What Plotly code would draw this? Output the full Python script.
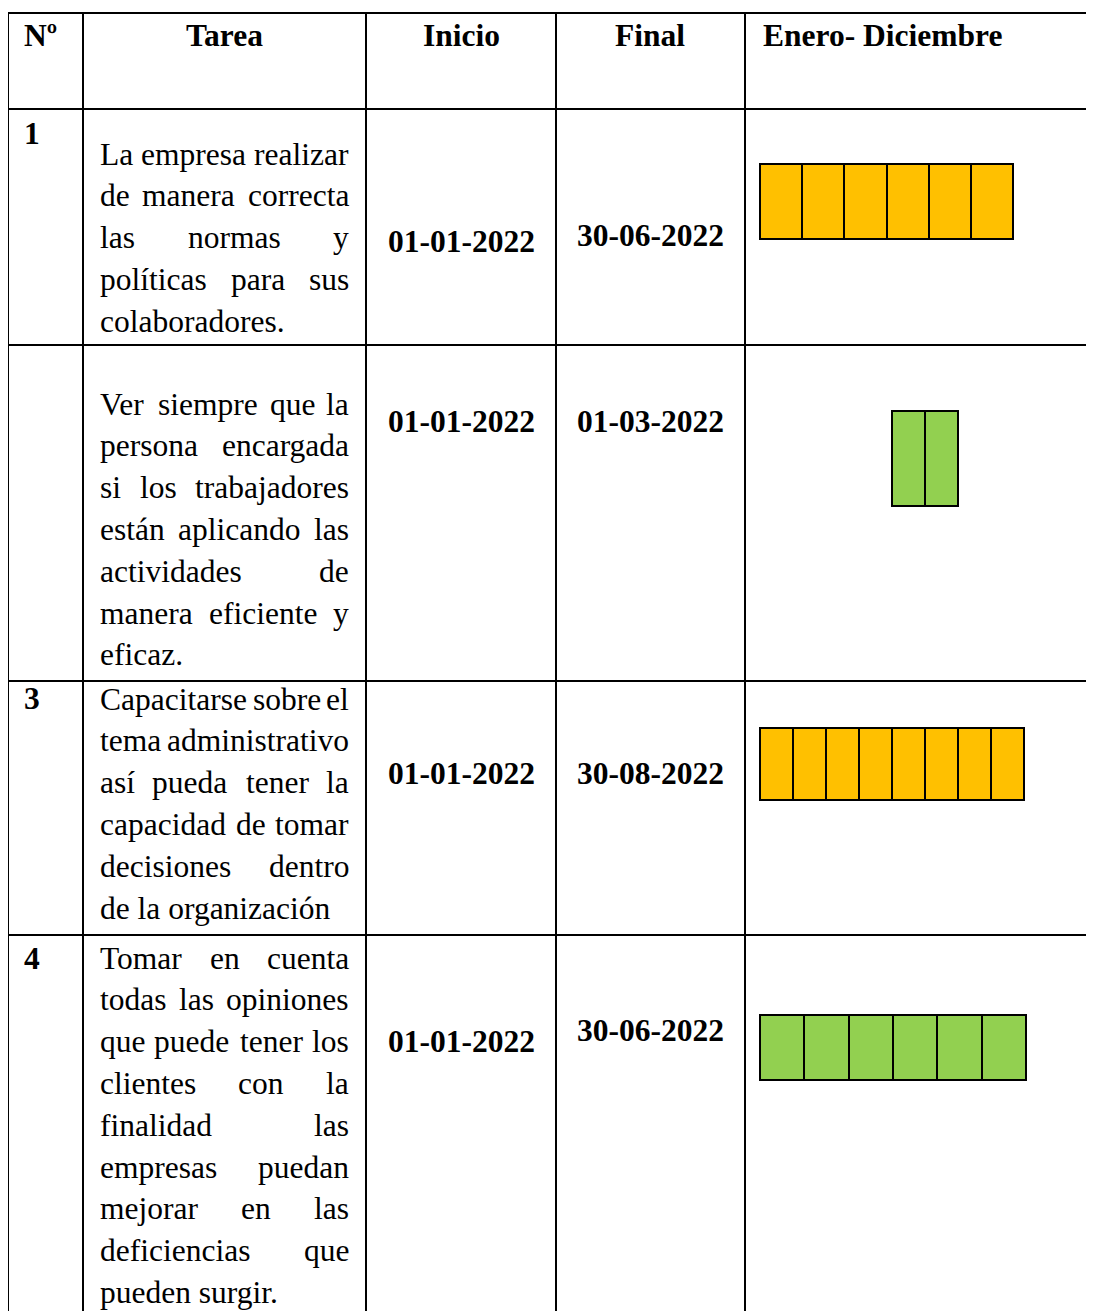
import plotly.graph_objects as go

# ---------------- data ----------------
encabezados = ["Nº", "Tarea", "Inicio", "Final", "Enero- Diciembre"]
numeros = ["1", "", "3", "4"]
tareas = [
    ["La empresa realizar", "de manera correcta", "las normas y",
     "políticas para sus", "colaboradores."],
    ["Ver siempre que la", "persona encargada", "si los trabajadores",
     "están aplicando las", "actividades de", "manera eficiente y", "eficaz."],
    ["Capacitarse sobre el", "tema administrativo", "así pueda tener la",
     "capacidad de tomar", "decisiones dentro", "de la organización"],
    ["Tomar en cuenta", "todas las opiniones", "que puede tener los",
     "clientes con la", "finalidad las", "empresas puedan",
     "mejorar en las", "deficiencias que", "pueden surgir."],
]
inicio = ["01-01-2022", "01-01-2022", "01-01-2022", "01-01-2022"]
final = ["30-06-2022", "01-03-2022", "30-08-2022", "30-06-2022"]
meses = [6, 2, 8, 6]

# ---------------- layout / style ----------------
W, H = 1094, 1311
PAGE_MARGIN = 8  # default body margin of the html page
FONT = "Liberation Serif"
FS = 31.5
col_x = [8, 83, 366, 556, 745]
row_y = [13, 109, 345, 681, 935]
text_left, text_right = 98, 351
num_x = 22
head_y = 35
num_y = [133, None, 698, 958]
first_line_y = [154, 404, 699, 958]
line_pitch = 41.8
inicio_y = [241, 421, 773, 1041]
final_y = [235, 421, 773, 1030]
inicio_x, final_x = 461, 650
bar_left = [760, 892, 760, 760]
bar_cell = [42.2, 33.0, 33.0, 44.3]
bar_top = [164, 411, 728, 1015]
bar_bottom = [239, 506, 800, 1080]
bar_color = ["#FFC000", "#92D050", "#FFC000", "#92D050"]

# Times-Roman advance widths (per 1000 em) for justification
CW = dict(zip("abcdefghijklmnopqrstuvwxyz",
              [444, 500, 444, 500, 444, 333, 500, 500, 278, 278, 500, 278, 778,
               500, 500, 500, 500, 333, 389, 278, 500, 500, 722, 500, 500, 444]))
CW.update(dict(zip("ABCDEFGHIJKLMNOPQRSTUVWXYZ",
                   [722, 667, 667, 722, 611, 556, 722, 722, 333, 389, 722, 611, 889,
                    722, 722, 556, 722, 667, 556, 611, 722, 722, 944, 722, 722, 611])))
CW.update({" ": 250, ".": 250, ",": 250, "-": 333, "í": 278, "á": 444,
           "é": 444, "ó": 500, "ú": 500, "ñ": 500})


def word_w(w):
    return sum(CW.get(c, 500) for c in w) * FS / 1000.0


fig = go.Figure()

# Gantt cells
for i, n in enumerate(meses):
    fig.add_trace(go.Bar(
        orientation="h",
        y=[(bar_top[i] + bar_bottom[i]) / 2] * n,
        x=[bar_cell[i]] * n,
        base=[bar_left[i] + k * bar_cell[i] for k in range(n)],
        width=[bar_bottom[i] - bar_top[i]] * n,
        marker=dict(color=bar_color[i], line=dict(color="black", width=2)),
        hoverinfo="skip", showlegend=False,
    ))

shapes = []
for x in col_x:
    shapes.append(dict(type="line", xref="x", yref="y", x0=x, x1=x,
                       y0=row_y[0], y1=H + 5, line=dict(color="black", width=2)))
for y in row_y:
    shapes.append(dict(type="line", xref="x", yref="y", x0=col_x[0] - 1, x1=W + 5,
                       y0=y, y1=y, line=dict(color="black", width=2)))

ann = []


def txt(x, y, s, bold=False, anchor="left"):
    ann.append(dict(x=x, y=y, xref="x", yref="y", text=("<b>%s</b>" % s) if bold else s,
                    showarrow=False, xanchor=anchor, yanchor="middle",
                    font=dict(family=FONT, size=FS, color="black")))


# headers
txt(num_x, head_y, encabezados[0], bold=True)
txt((col_x[1] + col_x[2]) / 2, head_y, encabezados[1], bold=True, anchor="center")
txt(inicio_x, head_y, encabezados[2], bold=True, anchor="center")
txt(final_x, head_y, encabezados[3], bold=True, anchor="center")
txt(761, head_y, encabezados[4], bold=True)

for i in range(4):
    if numeros[i]:
        txt(num_x, num_y[i], numeros[i], bold=True)
    lines = tareas[i]
    for j, line in enumerate(lines):
        y = first_line_y[i] + j * line_pitch
        words = line.split(" ")
        if j == len(lines) - 1 or len(words) == 1:
            txt(text_left, y, line)
            continue
        widths = [word_w(w) for w in words]
        gap = (text_right - text_left - sum(widths)) / (len(words) - 1)
        xcur = text_left
        for k, w in enumerate(words):
            if k == 0:
                txt(text_left, y, w)
            elif k == len(words) - 1:
                txt(text_right, y, w, anchor="right")
            else:
                txt(xcur + widths[k] / 2, y, w, anchor="center")
            xcur += widths[k] + gap
    txt(inicio_x, inicio_y[i], inicio[i], bold=True, anchor="center")
    txt(final_x, final_y[i], final[i], bold=True, anchor="center")

fig.update_layout(
    width=W - PAGE_MARGIN, height=H - PAGE_MARGIN, margin=dict(l=0, r=0, t=0, b=0),
    paper_bgcolor="white", plot_bgcolor="white",
    xaxis=dict(range=[PAGE_MARGIN, W], visible=False, fixedrange=True),
    yaxis=dict(range=[H, PAGE_MARGIN], visible=False, fixedrange=True),
    shapes=shapes, annotations=ann, barmode="overlay", bargap=0,
)
fig.write_html("out.html")
